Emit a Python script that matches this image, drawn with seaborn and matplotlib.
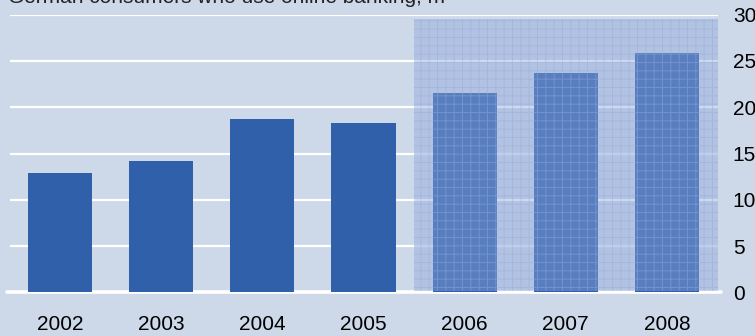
import matplotlib
matplotlib.use("Agg")
import matplotlib.pyplot as plt
import seaborn as sns
import pandas as pd
from matplotlib.patches import Rectangle

years = ["2002", "2003", "2004", "2005", "2006", "2007", "2008"]
users = [12.9, 14.2, 18.7, 18.3, 21.5, 23.7, 25.9]
yticks = [0, 5, 10, 15, 20, 25, 30]
title = "German consumers who use online banking, m"
forecast_start = "2006"

BG = "#CDD8E9"
BAR = "#3160AB"

sns.set_theme(style="white")
plt.rcParams["font.family"] = ["Liberation Sans", "DejaVu Sans"]
plt.rcParams["hatch.linewidth"] = 0.7

df = pd.DataFrame({"year": years, "users": users})

fig = plt.figure(figsize=(7.55, 3.36), dpi=100, facecolor=BG)
W, H = 755, 336
ax = fig.add_axes([9.5 / W, (H - 292.3) / H, (717.5 - 9.5) / W, (292.3 - 14.7) / H])
ax.set_facecolor(BG)

sns.barplot(data=df, x="year", y="users", color=BAR, saturation=1, width=0.634,
            ax=ax, zorder=3, linewidth=0, edgecolor=BAR)

ax.set_xlim(-0.5, len(years) - 0.5)
ax.set_ylim(0, 30)
ax.set_yticks(yticks)
ax.set_yticklabels([str(t) for t in yticks])
ax.yaxis.tick_right()
ax.tick_params(axis="y", length=0, pad=11, labelsize=15, colors="black")
ax.tick_params(axis="x", length=0, pad=16, labelsize=15, colors="black")
ax.set_xlabel("")
ax.set_ylabel("")
for s in ax.spines.values():
    s.set_visible(False)

for t in yticks[1:]:
    ax.axhline(t, color="white", lw=1.6, zorder=1)
ax.plot([-0.52, len(years) - 0.47], [0, 0], color="white", lw=2.6,
        solid_capstyle="round", clip_on=False, zorder=2)

# forecast shaded region overlay
i0 = years.index(forecast_start)
x0 = i0 - 0.5
overlay = Rectangle((x0, 0.1), len(years) - 0.5 - x0, 29.45,
                    facecolor=(0x90 / 255, 0xA7 / 255, 0xDB / 255, 0.43),
                    edgecolor=(0.58, 0.68, 0.86, 0.45), lw=0, hatch="++",
                    zorder=5)
ax.add_patch(overlay)

fig.text(8 / W, 1 - 2.7 / H, title, ha="left", va="baseline", fontsize=15,
         color="#222222")

fig.savefig("out.png", dpi=100, facecolor=BG)
